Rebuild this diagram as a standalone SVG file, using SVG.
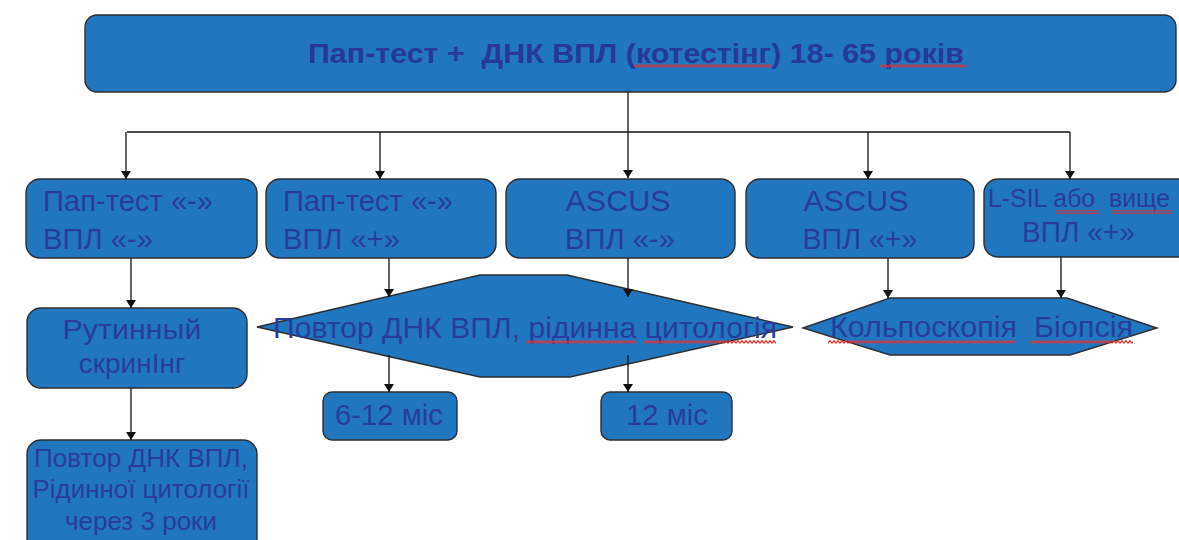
<svg xmlns="http://www.w3.org/2000/svg" width="1179" height="540" viewBox="0 0 1179 540">
  <defs>
    <marker id="arr" viewBox="0 0 8 10" refX="8" refY="5" markerWidth="8" markerHeight="10" markerUnits="userSpaceOnUse" orient="auto">
      <path d="M0 0 L8 5 L0 10 Z" fill="#111"/>
    </marker>
    <!-- red wavy spell-check underline -->
    <pattern id="wave" width="4" height="4" patternUnits="userSpaceOnUse">
      <path d="M0 3.3 L2 0.7 L4 3.3" fill="none" stroke="#e8302c" stroke-width="1.3"/>
    </pattern>
  </defs>
  <style>
    .box { fill: #2176c0; stroke: #2e2e2e; stroke-width: 1.4; }
    .t { font-family: "Liberation Sans", Arial, sans-serif; font-size: 29px; fill: #293c9c; }
    .title { font-family: "Liberation Sans", Arial, sans-serif; font-size: 27px; font-weight: bold; fill: #27379a; }
    .m { text-anchor: middle; }
    .c line { stroke: #111; stroke-width: 1.3; fill: none; }
    .w { fill: url(#wave); }
  </style>
  <rect width="1179" height="540" fill="#ffffff"/>

  <!-- top: co-testing -->
  <g id="cotest">
    <rect class="box" x="85" y="15" width="1091" height="77" rx="12"/>
    <text class="title" x="308" y="63" textLength="656" lengthAdjust="spacingAndGlyphs" xml:space="preserve">Пап-тест +  ДНК ВПЛ (котестінг) 18- 65 років</text>
    <rect class="w" x="634" y="64" width="137" height="4"/>
    <rect class="w" x="880" y="64" width="86" height="4"/>
  </g>

  <g id="neg-neg">
    <rect class="box" x="26" y="179" width="231" height="79" rx="14"/>
    <text class="t" x="43" y="211" textLength="170" lengthAdjust="spacingAndGlyphs">Пап-тест «-»</text>
    <text class="t" x="43" y="249" textLength="110" lengthAdjust="spacingAndGlyphs">ВПЛ «-»</text>
  </g>

  <g id="neg-pos">
    <rect class="box" x="266" y="179" width="230" height="79" rx="14"/>
    <text class="t" x="283" y="211" textLength="170" lengthAdjust="spacingAndGlyphs">Пап-тест «-»</text>
    <text class="t" x="283" y="249" textLength="117" lengthAdjust="spacingAndGlyphs">ВПЛ «+»</text>
  </g>

  <g id="ascus-neg">
    <rect class="box" x="506" y="179" width="229" height="79" rx="14"/>
    <text class="t m" x="618" y="211" textLength="105" lengthAdjust="spacingAndGlyphs">ASCUS</text>
    <text class="t m" x="620" y="249" textLength="110" lengthAdjust="spacingAndGlyphs">ВПЛ «-»</text>
  </g>

  <g id="ascus-pos">
    <rect class="box" x="746" y="179" width="228" height="79" rx="14"/>
    <text class="t m" x="856" y="211" textLength="105" lengthAdjust="spacingAndGlyphs">ASCUS</text>
    <text class="t m" x="860" y="249" textLength="115" lengthAdjust="spacingAndGlyphs">ВПЛ «+»</text>
  </g>

  <g id="lsil">
    <rect class="box" x="984" y="179" width="215" height="78" rx="14"/>
    <text class="t" x="988" y="207" style="font-size:25px" textLength="182" lengthAdjust="spacingAndGlyphs" xml:space="preserve">L-SIL або  вище</text>
    <rect class="w" x="1056" y="210" width="43" height="4"/>
    <rect class="w" x="1112" y="210" width="60" height="4"/>
    <text class="t" x="1022" y="242" textLength="113" lengthAdjust="spacingAndGlyphs">ВПЛ «+»</text>
  </g>

  <g id="routine">
    <rect class="box" x="27" y="308" width="220" height="80" rx="14"/>
    <text class="t m" x="132" y="339" style="font-size:28px" textLength="139" lengthAdjust="spacingAndGlyphs">Рутинный</text>
    <text class="t m" x="132" y="373" style="font-size:28px">скринІнг</text>
  </g>

  <g id="repeat-3y">
    <rect class="box" x="27" y="440" width="230" height="115" rx="14"/>
    <text class="t m" x="141" y="467" style="font-size:25px" textLength="214" lengthAdjust="spacingAndGlyphs">Повтор ДНК ВПЛ,</text>
    <text class="t m" x="141" y="498" style="font-size:25px" textLength="217" lengthAdjust="spacingAndGlyphs">Рідинної цитології</text>
    <text class="t m" x="141" y="530" style="font-size:25px" textLength="152" lengthAdjust="spacingAndGlyphs">через 3 роки</text>
  </g>

  <g id="repeat-test">
    <polygon class="box" points="257,327 480,275 567,275 793,327 570,377 480,377"/>
    <text class="t" x="273" y="338" style="font-size:30px" textLength="504" lengthAdjust="spacingAndGlyphs">Повтор ДНК ВПЛ, рідинна цитологія</text>
    <rect class="w" x="526" y="340" width="110" height="4"/>
    <rect class="w" x="644" y="340" width="132" height="4"/>
  </g>

  <g id="colpo">
    <polygon class="box" points="803,328 890,298 1067,298 1157,328 1070,355 890,355"/>
    <text class="t" x="830" y="337" style="font-size:30px" textLength="303" lengthAdjust="spacingAndGlyphs" xml:space="preserve">Кольпоскопія  Біопсія</text>
    <rect class="w" x="828" y="340" width="187" height="4"/>
    <rect class="w" x="1030" y="340" width="103" height="4"/>
  </g>

  <g id="m6-12">
    <rect class="box" x="323" y="392" width="134" height="48" rx="9"/>
    <text class="t m" x="389" y="425" textLength="108" lengthAdjust="spacingAndGlyphs">6-12 міс</text>
  </g>

  <g id="m12">
    <rect class="box" x="601" y="392" width="131" height="48" rx="9"/>
    <text class="t m" x="667" y="425" textLength="82" lengthAdjust="spacingAndGlyphs">12 міс</text>
  </g>

  <!-- connectors, drawn over the shapes -->
  <g id="connectors" class="c">
    <line x1="628" y1="92" x2="628" y2="178" marker-end="url(#arr)"/>
    <line x1="127" y1="132" x2="1070" y2="132"/>
    <line x1="126" y1="132" x2="126" y2="179" marker-end="url(#arr)"/>
    <line x1="380" y1="132" x2="380" y2="179" marker-end="url(#arr)"/>
    <line x1="868" y1="132" x2="868" y2="179" marker-end="url(#arr)"/>
    <line x1="1070" y1="132" x2="1070" y2="179" marker-end="url(#arr)"/>
    <line x1="131" y1="258" x2="131" y2="308" marker-end="url(#arr)"/>
    <line x1="131" y1="388" x2="131" y2="440" marker-end="url(#arr)"/>
    <line x1="389" y1="258" x2="389" y2="297" marker-end="url(#arr)"/>
    <line x1="628" y1="258" x2="628" y2="297" marker-end="url(#arr)"/>
    <line x1="888" y1="258" x2="888" y2="298" marker-end="url(#arr)"/>
    <line x1="1061" y1="257" x2="1061" y2="298" marker-end="url(#arr)"/>
    <line x1="389" y1="355" x2="389" y2="392" marker-end="url(#arr)"/>
    <line x1="628" y1="355" x2="628" y2="392" marker-end="url(#arr)"/>
  </g>
</svg>
